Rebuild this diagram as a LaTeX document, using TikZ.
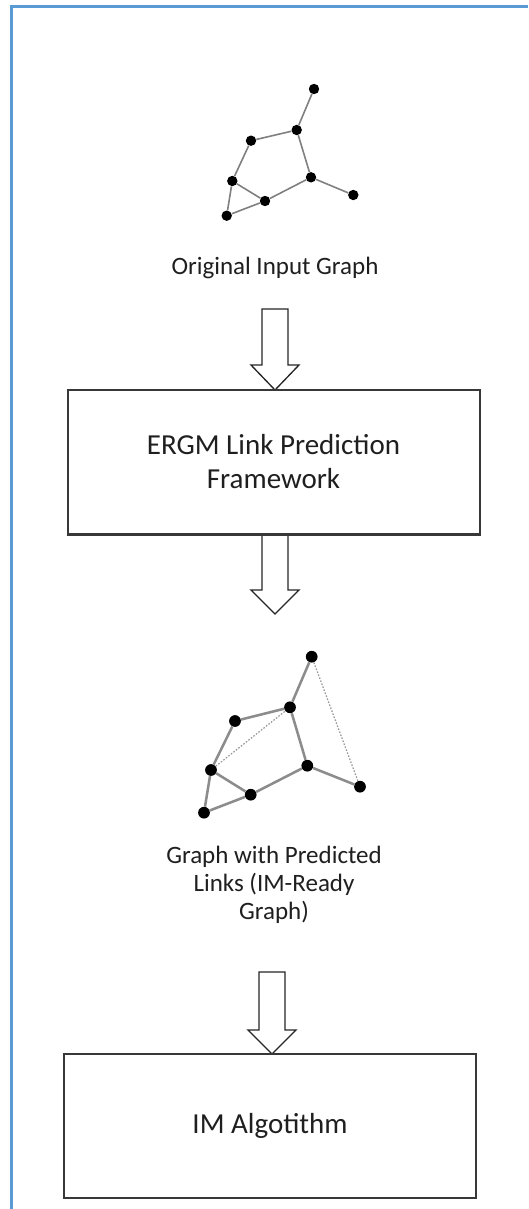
\documentclass[tikz,border=0pt]{standalone}
\usepackage{fontspec}
\setmainfont{Carlito}
\begin{document}
\begin{tikzpicture}[x=0.75pt,y=-0.75pt,
  dota/.style={circle,fill=black,inner sep=0pt,minimum size=7.8pt},
  dotb/.style={circle,fill=black,inner sep=0pt,minimum size=8.8pt},
  edgea/.style={draw=black!50,line width=1.2pt},
  edgeb/.style={draw=black!45,line width=1.9pt},
  predicted/.style={draw=black!40,line width=0.9pt,dash pattern=on 1.2pt off 1.2pt},
  stagebox/.style={draw=black!78,line width=1.5pt,fill=white,align=center,
    minimum width=309pt,minimum height=108pt,inner sep=0pt,text=black!88,
    font=\fontsize{21.75}{25.5}\selectfont},
  caption/.style={align=center,text=black!88,inner sep=0pt,
    font=\fontsize{18.75}{21}\selectfont},
  blockarrow/.style={draw=black!85,line width=1pt,fill=white,line join=miter}
]
\useasboundingbox (0,0) rectangle (528,1209);
\fill[white] (0,0) rectangle (528,1209);
% blue frame
\draw[draw={rgb,255:red,91;green,155;blue,213},line width=1.6pt] (11.5,1209) -- (11.5,6.5) -- (528,6.5);

% top graph
\node[dota] (a1) at (314,89) {};
\node[dota] (a2) at (296.7,130) {};
\node[dota] (a3) at (251,140.7) {};
\node[dota] (a4) at (232.3,181) {};
\node[dota] (a5) at (265,201) {};
\node[dota] (a6) at (226.7,215.7) {};
\node[dota] (a7) at (311,177.3) {};
\node[dota] (a8) at (353.3,195) {};
\path[edgea] (a1) -- (a2) (a2) -- (a3) (a3) -- (a4) (a4) -- (a5) (a4) -- (a6)
  (a6) -- (a5) (a5) -- (a7) (a7) -- (a2) (a7) -- (a8);

\node[caption] (cap1) at (275,268) {Original Input Graph};

% arrow 1
\draw[blockarrow] (262,309) -- (288,309) -- (288,365) -- (299,365) -- (275,390)
  -- (251,365) -- (262,365) -- cycle;

\node[stagebox] (ergm) at (273.5,462) {ERGM Link Prediction\\Framework};

% arrow 2
\draw[blockarrow] (262,535) -- (288,535) -- (288,590) -- (299,590) -- (275,614)
  -- (251,590) -- (262,590) -- cycle;
\draw[draw=black!78,line width=1.5pt] (ergm.south west) -- (ergm.south east);

% middle graph
\node[dotb] (b1) at (311.7,656.7) {};
\node[dotb] (b2) at (290,707.3) {};
\node[dotb] (b3) at (235,721) {};
\node[dotb] (b4) at (211,770) {};
\node[dotb] (b5) at (250.7,794.7) {};
\node[dotb] (b6) at (204,812.7) {};
\node[dotb] (b7) at (307.3,765.7) {};
\node[dotb] (b8) at (360,786.7) {};
\path[edgeb] (b1) -- (b2) (b2) -- (b3) (b3) -- (b4) (b4) -- (b5) (b4) -- (b6)
  (b6) -- (b5) (b5) -- (b7) (b7) -- (b2) (b7) -- (b8);
\path[predicted] (b4) -- (b2) (b1) -- (b8);

\node[caption] (cap2) at (274,885) {Graph with Predicted\\Links (IM-Ready\\Graph)};

% arrow 3
\draw[blockarrow] (259,972) -- (285,972) -- (285,1030) -- (296,1030) -- (272,1054)
  -- (248,1030) -- (259,1030) -- cycle;

\node[stagebox] (im) at (270,1126) {IM Algotithm};
\end{tikzpicture}
\end{document}
